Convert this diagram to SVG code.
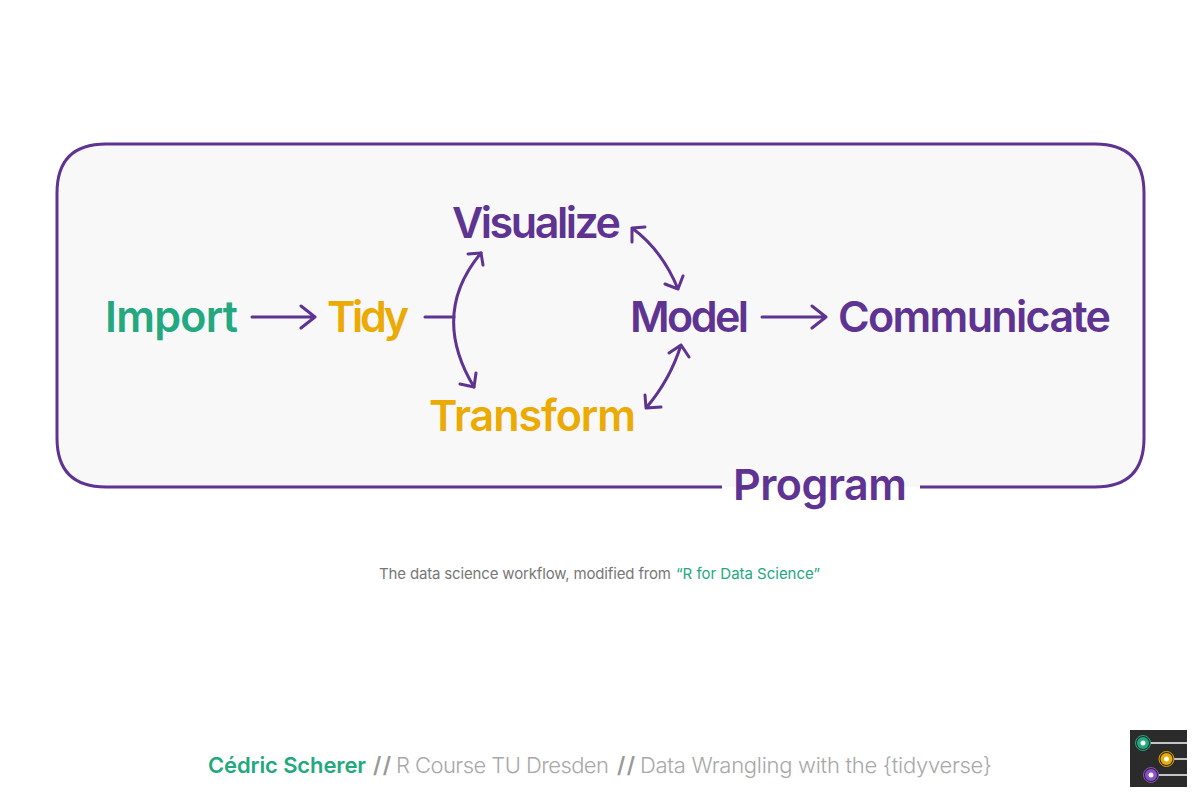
<svg xmlns="http://www.w3.org/2000/svg" width="1200" height="801" viewBox="0 0 1200 801">
<defs>
<style>
.big{font-family:"Inter","Liberation Sans",sans-serif;font-weight:600;font-size:43px}
.c{fill:none;stroke:#5e3391;stroke-width:3;stroke-linecap:round;stroke-linejoin:round}
.purple{fill:#5e3391}.green{fill:#24a87f}.gold{fill:#ecaa05}
.foot{font-family:"Inter","Liberation Sans",sans-serif;font-size:22px;font-weight:300;fill:#a8a8a8}
.foot.name{font-weight:600;fill:#24a87f}
.foot.sep{font-weight:600;fill:#999999}
.cap{font-family:"Inter","Liberation Sans",sans-serif;font-size:15px}
.ln{stroke:#c4c4c4;stroke-width:2;fill:none}
.w{fill:#ffffff}
</style>
</defs>
<rect width="1200" height="801" fill="#ffffff"/>
<g id="program-box"><path d="M722 487H106Q57 487 57 438V193Q57 144 106 144H1095Q1144 144 1144 193V438Q1144 487 1095 487H920" fill="#f8f8f8" stroke="#5e3391" stroke-width="3"/></g>
<g id="connectors">
<path class="c" d="M252 317H315M301 306L315 317L301 328"/>
<path class="c" d="M762 317H826M812 306L826 317L812 328"/>
<path class="c" d="M425 317H454"/>
<path class="c" d="M481 253Q430 314 474 387"/>
<path class="c" d="M468 254L481 253L483 265M460 384L474 387L476 373"/>
<path class="c" d="M632 228Q662 250 678 289M645 227L632 228L632 242M665 284L678 289L683 276"/>
<path class="c" d="M681 345Q670 380 646 408M669 353L681 345L689 357M645 395L646 408L661 407"/>
</g>
<g id="import"><text class="big green" x="105" y="332" textLength="133" lengthAdjust="spacing">Import</text></g>
<g id="tidy"><text class="big gold" x="327" y="332" textLength="82" lengthAdjust="spacing">Tidy</text></g>
<g id="visualize"><text class="big purple" x="452" y="238" textLength="169" lengthAdjust="spacing">Visualize</text></g>
<g id="transform"><text class="big gold" x="429" y="431" textLength="207" lengthAdjust="spacing">Transform</text></g>
<g id="model"><text class="big purple" x="630" y="332" textLength="119" lengthAdjust="spacing">Model</text></g>
<g id="communicate"><text class="big purple" x="838" y="332" textLength="273" lengthAdjust="spacing">Communicate</text></g>
<g id="program"><text class="big purple" x="733" y="500" textLength="174" lengthAdjust="spacing">Program</text></g>
<g id="caption">
<text class="cap" x="379" y="579" fill="#777777" textLength="292" lengthAdjust="spacing">The data science workflow, modified from</text>
<text class="cap" x="676" y="579" fill="#24a87f" textLength="144" lengthAdjust="spacing">“R for Data Science”</text>
</g>
<g id="footer">
<text class="foot name" x="208" y="773" textLength="158" lengthAdjust="spacing">Cédric Scherer</text>
<text class="foot sep" x="373" y="773" textLength="18" lengthAdjust="spacing">//</text>
<text class="foot" x="396" y="773" textLength="213" lengthAdjust="spacing">R Course TU Dresden</text>
<text class="foot sep" x="617" y="773" textLength="18" lengthAdjust="spacing">//</text>
<text class="foot" x="640" y="773" textLength="352" lengthAdjust="spacing">Data Wrangling with the {tidyverse}</text>
</g>
<g id="logo">
<rect x="1130" y="730" width="57" height="57" fill="#2b2b2b"/>
<path class="ln" d="M1143 743H1187M1167 759H1187M1151 775H1187"/>
<circle cx="1143" cy="743" r="7.5" fill="#2b2b2b" stroke="#24a87f" stroke-width="1"/><circle cx="1143" cy="743" r="6" class="green"/><circle cx="1143" cy="743" r="2.5" class="w"/>
<circle cx="1166.5" cy="759" r="7.5" fill="#2b2b2b" stroke="#ecaa05" stroke-width="1"/><circle cx="1166.5" cy="759" r="6" class="gold"/><circle cx="1166.5" cy="759" r="2.5" class="w"/>
<circle cx="1151" cy="775" r="7.5" fill="#2b2b2b" stroke="#8a4fc9" stroke-width="1"/><circle cx="1151" cy="775" r="6" fill="#8a4fc9"/><circle cx="1151" cy="775" r="2.5" class="w"/>
</g>
</svg>
